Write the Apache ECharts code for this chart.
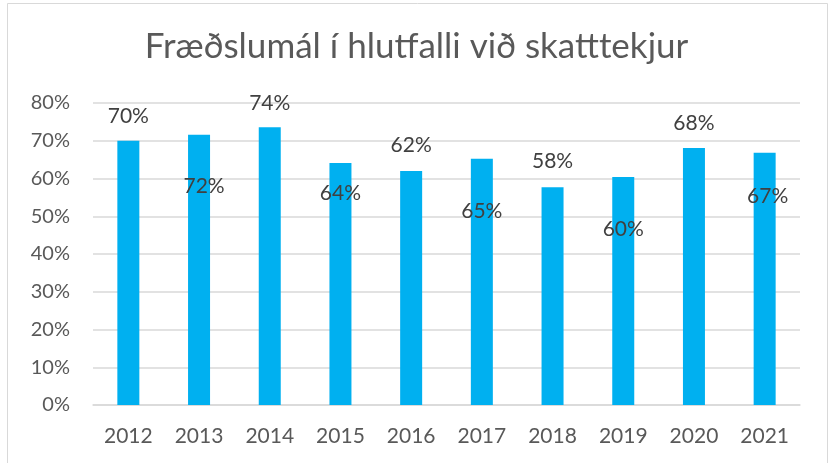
<!DOCTYPE html>
<html>
<head>
<meta charset="utf-8">
<script src="https://cdn.jsdelivr.net/npm/echarts@6/dist/echarts.min.js"></script>
<style>
  html, body { margin: 0; padding: 0; background: #fff; }
  #chart { width: 833px; height: 463px; }
</style>
</head>
<body>
<div id="chart"></div>
<script>
// gögn
var years = ['2012', '2013', '2014', '2015', '2016', '2017', '2018', '2019', '2020', '2021'];
var ratio = [0.700, 0.716, 0.736, 0.641, 0.620, 0.652, 0.577, 0.604, 0.681, 0.668];
var yTicks = [0, 0.1, 0.2, 0.3, 0.4, 0.5, 0.6, 0.7, 0.8];

// staðsetning merkja miðað við topp súlu (px)
var labelShift = [-25, 52, -24, 30, -26, 52, -26, 52, -25, 43];
var labelShiftX = [0, 5, 0, 0, 0, 0, 0, 0, 0, 3];

var font = 'Lato, "Open Sans", sans-serif';
var myChart = echarts.init(document.getElementById('chart'));

var option = {
    backgroundColor: '#fff',
    animation: false,
    graphic: [{
        type: 'rect',
        shape: { x: 7.5, y: 3.5, width: 820, height: 470 },
        style: { fill: 'none', stroke: '#d9d9d9', lineWidth: 1 }
    }],
    title: {
        text: 'Fræðslumál í hlutfalli við skatttekjur',
        left: 'center',
        top: 24,
        textStyle: { color: '#595959', fontSize: 35, fontWeight: 'normal', fontFamily: font }
    },
    grid: { left: 93, right: 33, top: 103, bottom: 58 },
    xAxis: {
        type: 'category',
        data: years,
        axisTick: { show: false },
        axisLine: { lineStyle: { color: '#d9d9d9', width: 1.5 } },
        axisLabel: { color: '#595959', fontSize: 21, fontFamily: font, margin: 21 }
    },
    yAxis: {
        type: 'value',
        min: yTicks[0],
        max: yTicks[yTicks.length - 1],
        interval: 0.1,
        axisLine: { show: false },
        axisTick: { show: false },
        splitLine: { lineStyle: { color: '#d9d9d9', width: 1.5 } },
        axisLabel: {
            color: '#595959', fontSize: 20, fontFamily: font, margin: 23,
            formatter: function (v) { return Math.round(v * 100) + '%'; }
        }
    },
    series: [{
        type: 'bar',
        barWidth: 22,
        itemStyle: { color: '#00b0f0' },
        data: ratio.map(function (v, i) {
            return {
                value: v,
                label: { position: ['50%', labelShift[i]], offset: [labelShiftX[i], 0] }
            };
        }),
        label: {
            show: true,
            align: 'center',
            verticalAlign: 'middle',
            color: '#404040',
            fontSize: 21,
            fontFamily: font,
            formatter: function (p) { return Math.round(p.value * 100) + '%'; }
        }
    }]
};

myChart.setOption(option);
</script>
</body>
</html>
